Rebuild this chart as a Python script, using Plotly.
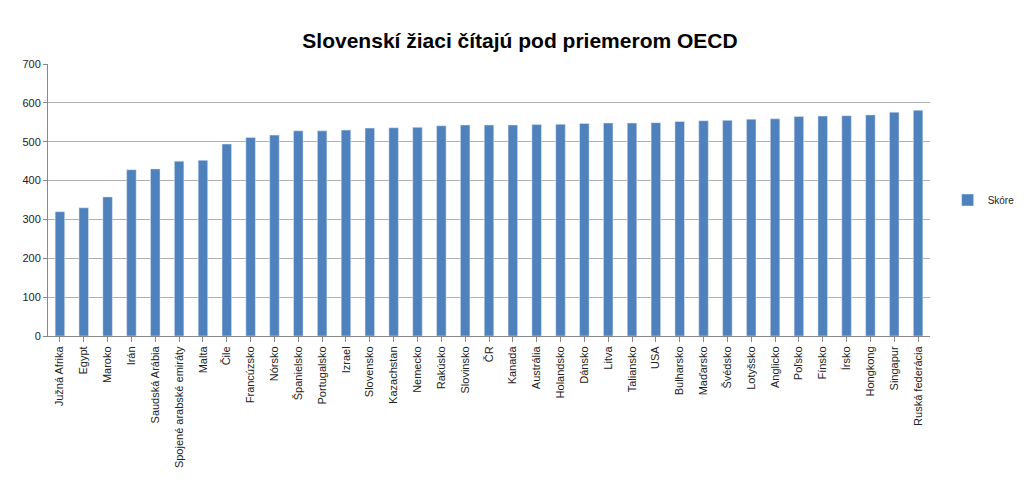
import plotly.graph_objects as go

countries = ["Južná Afrika","Egypt","Maroko","Irán","Saudská Arábia","Spojené arabské emiráty","Malta","Čile","Francúzsko","Nórsko","Španielsko","Portugalsko","Izrael","Slovensko","Kazachstan","Nemecko","Rakúsko","Slovinsko","ČR","Kanada","Austrália","Holandsko","Dánsko","Litva","Taliansko","USA","Bulharsko","Maďarsko","Švédsko","Lotyšsko","Anglicko","Poľsko","Fínsko","Írsko","Hongkong","Singapur","Ruská federácia"]
scores = [320,330,358,428,430,450,452,494,511,517,528,528,530,535,536,537,541,543,543,543,544,545,547,548,548,549,552,554,555,558,559,565,566,567,569,576,581]

fig = go.Figure(go.Bar(x=countries, y=scores, name="Skóre", marker_color="#4F81BD", width=0.4, showlegend=True))
fig.update_layout(
    width=1024, height=497, paper_bgcolor="white", plot_bgcolor="white",
    margin=dict(l=40, r=79, t=56, b=169),
    title=dict(text="<b>Slovenskí žiaci čítajú pod priemerom OECD</b>", x=0.5, xanchor="center", y=0.95,
               font=dict(family="Liberation Sans, Arial", size=21, color="black")),
    font=dict(family="Liberation Sans, Arial", size=11, color="#222"),
    legend=dict(x=1.02, y=0.5, yanchor="middle", font=dict(size=10)),
    bargap=0.5,
)
fig.update_yaxes(range=[0,700], dtick=100, gridcolor="#B0B0B0", showline=True, linecolor="#888", ticks="outside", ticklen=4, tickcolor="#888")
fig.update_xaxes(tickangle=-90, showline=True, linecolor="#888", ticks="outside", tickcolor="#888")
fig.write_html("out.html")
